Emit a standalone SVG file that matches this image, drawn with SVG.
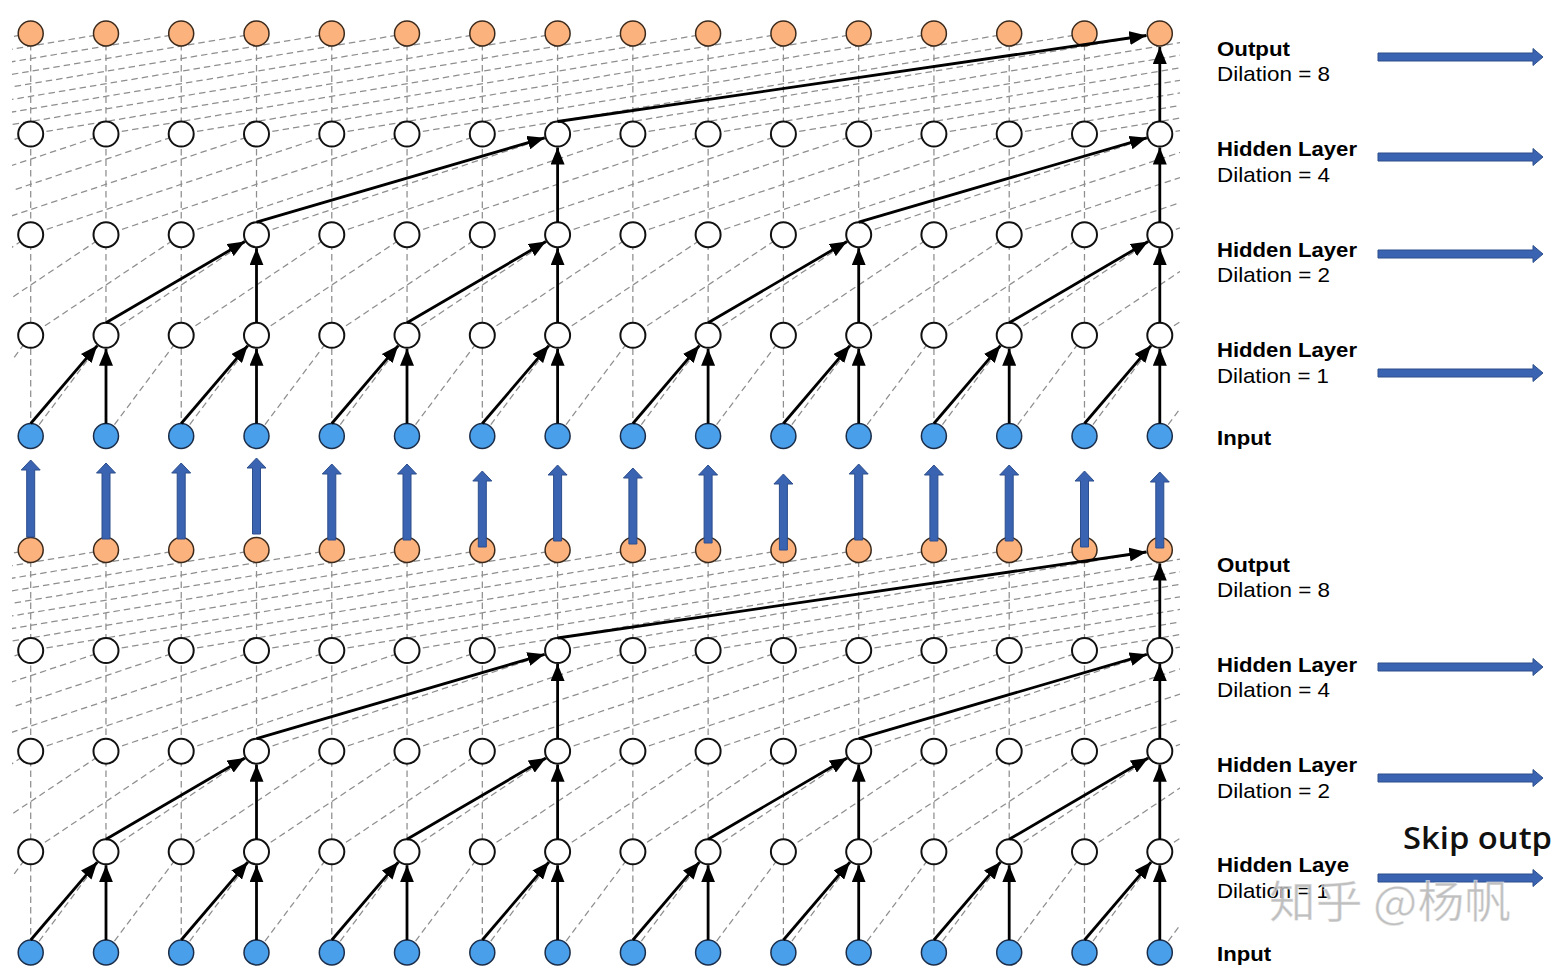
<svg xmlns="http://www.w3.org/2000/svg" width="1552" height="967" viewBox="0 0 1552 967">
<style>
.o{fill:#FCB27D;stroke:#3b2a1c;stroke-width:1.5}
.h{fill:#fff;stroke:#111;stroke-width:2}
.i{fill:#4A9FEA;stroke:#1b2d48;stroke-width:1.5}
.g{fill:none;stroke:#8e8e8e;stroke-width:1.25;stroke-dasharray:6.5 4}
.a{stroke:#000;stroke-width:2.8;marker-end:url(#ah)}
.b{fill:#3A63B2;stroke:#2C4E8C;stroke-width:1}
.lb{font-family:"Liberation Sans",Arial,sans-serif;font-size:21px;font-weight:bold;fill:#000}
.ld{font-family:"Liberation Sans",Arial,sans-serif;font-size:21px;fill:#000}
</style>
<defs>
<marker id="ah" markerUnits="userSpaceOnUse" markerWidth="18" markerHeight="14" refX="17" refY="7" orient="auto"><path d="M0,0 L17,7 L0,14 z" fill="#000"/></marker>
<clipPath id="clip" clipPathUnits="userSpaceOnUse"><rect x="12" y="-600" width="1168" height="2200"/></clipPath>
<g id="grid">
<path class="g" d="M1761.9,33.5l-602.16,100.5m526.89,-100.5l-602.16,100.5m526.89,-100.5l-602.16,100.5m526.89,-100.5l-602.16,100.5m526.89,-100.5l-602.16,100.5m526.89,-100.5l-602.16,100.5m526.89,-100.5l-602.16,100.5m526.89,-100.5l-602.16,100.5m526.89,-100.5l-602.16,100.5m526.89,-100.5l-602.16,100.5m526.89,-100.5l-602.16,100.5m526.89,-100.5l-602.16,100.5m526.89,-100.5l-602.16,100.5m526.89,-100.5l-602.16,100.5m526.89,-100.5l-602.16,100.5m526.89,-100.5l-602.16,100.5m526.89,-100.5l-602.16,100.5m526.89,-100.5l-602.16,100.5m526.89,-100.5l-602.16,100.5m526.89,-100.5l-602.16,100.5m526.89,-100.5l-602.16,100.5m526.89,-100.5l-602.16,100.5m526.89,-100.5l-602.16,100.5m526.89,-100.5l-602.16,100.5"/>
<path class="g" d="M1460.8,134l-301.08,100.7m225.81,-100.7l-301.08,100.7m225.81,-100.7l-301.08,100.7m225.81,-100.7l-301.08,100.7m225.81,-100.7l-301.08,100.7m225.81,-100.7l-301.08,100.7m225.81,-100.7l-301.08,100.7m225.81,-100.7l-301.08,100.7m225.81,-100.7l-301.08,100.7m225.81,-100.7l-301.08,100.7m225.81,-100.7l-301.08,100.7m225.81,-100.7l-301.08,100.7m225.81,-100.7l-301.08,100.7m225.81,-100.7l-301.08,100.7m225.81,-100.7l-301.08,100.7m225.81,-100.7l-301.08,100.7m225.81,-100.7l-301.08,100.7m225.81,-100.7l-301.08,100.7m225.81,-100.7l-301.08,100.7m225.81,-100.7l-301.08,100.7"/>
<path class="g" d="M1310.3,234.7l-150.54,100.6m75.27,-100.6l-150.54,100.6m75.27,-100.6l-150.54,100.6m75.27,-100.6l-150.54,100.6m75.27,-100.6l-150.54,100.6m75.27,-100.6l-150.54,100.6m75.27,-100.6l-150.54,100.6m75.27,-100.6l-150.54,100.6m75.27,-100.6l-150.54,100.6m75.27,-100.6l-150.54,100.6m75.27,-100.6l-150.54,100.6m75.27,-100.6l-150.54,100.6m75.27,-100.6l-150.54,100.6m75.27,-100.6l-150.54,100.6m75.27,-100.6l-150.54,100.6m75.27,-100.6l-150.54,100.6m75.27,-100.6l-150.54,100.6m75.27,-100.6l-150.54,100.6"/>
<path class="g" d="M1235,335.3l-75.27,100.7m0,-100.7l-75.27,100.7m0,-100.7l-75.27,100.7m0,-100.7l-75.27,100.7m0,-100.7l-75.27,100.7m0,-100.7l-75.27,100.7m0,-100.7l-75.27,100.7m0,-100.7l-75.27,100.7m0,-100.7l-75.27,100.7m0,-100.7l-75.27,100.7m0,-100.7l-75.27,100.7m0,-100.7l-75.27,100.7m0,-100.7l-75.27,100.7m0,-100.7l-75.27,100.7m0,-100.7l-75.27,100.7m0,-100.7l-75.27,100.7m0,-100.7l-75.27,100.7"/>
<path class="g" d="M30.7,33.5v402.5m75.27,-402.5v402.5m75.27,-402.5v402.5m75.27,-402.5v402.5m75.27,-402.5v402.5m75.27,-402.5v402.5m75.27,-402.5v402.5m75.27,-402.5v402.5m75.27,-402.5v402.5m75.27,-402.5v402.5m75.27,-402.5v402.5m75.27,-402.5v402.5m75.27,-402.5v402.5m75.27,-402.5v402.5m75.27,-402.5v402.5m75.27,-402.5v402.5"/>
</g>
<g id="arrows">
<line class="a" x1="30.7" y1="423.5" x2="97.2" y2="345.6"/>
<line class="a" x1="181.2" y1="423.5" x2="247.7" y2="345.6"/>
<line class="a" x1="331.8" y1="423.5" x2="398.2" y2="345.6"/>
<line class="a" x1="482.3" y1="423.5" x2="548.8" y2="345.6"/>
<line class="a" x1="632.9" y1="423.5" x2="699.3" y2="345.6"/>
<line class="a" x1="783.4" y1="423.5" x2="849.9" y2="345.6"/>
<line class="a" x1="933.9" y1="423.5" x2="1000.4" y2="345.6"/>
<line class="a" x1="1084.5" y1="423.5" x2="1151" y2="345.6"/>
<line class="a" x1="106" y1="423.5" x2="106" y2="348.8"/>
<line class="a" x1="256.5" y1="423.5" x2="256.5" y2="348.8"/>
<line class="a" x1="407" y1="423.5" x2="407" y2="348.8"/>
<line class="a" x1="557.6" y1="423.5" x2="557.6" y2="348.8"/>
<line class="a" x1="708.1" y1="423.5" x2="708.1" y2="348.8"/>
<line class="a" x1="858.7" y1="423.5" x2="858.7" y2="348.8"/>
<line class="a" x1="1009.2" y1="423.5" x2="1009.2" y2="348.8"/>
<line class="a" x1="1159.8" y1="423.5" x2="1159.8" y2="348.8"/>
<line class="a" x1="106" y1="322.8" x2="244.8" y2="241.5"/>
<line class="a" x1="407" y1="322.8" x2="545.9" y2="241.5"/>
<line class="a" x1="708.1" y1="322.8" x2="847" y2="241.5"/>
<line class="a" x1="1009.2" y1="322.8" x2="1148.1" y2="241.5"/>
<line class="a" x1="256.5" y1="322.8" x2="256.5" y2="248.2"/>
<line class="a" x1="557.6" y1="322.8" x2="557.6" y2="248.2"/>
<line class="a" x1="858.7" y1="322.8" x2="858.7" y2="248.2"/>
<line class="a" x1="1159.8" y1="322.8" x2="1159.8" y2="248.2"/>
<line class="a" x1="256.5" y1="222.2" x2="544.6" y2="137.8"/>
<line class="a" x1="858.7" y1="222.2" x2="1146.8" y2="137.8"/>
<line class="a" x1="557.6" y1="222.2" x2="557.6" y2="147.5"/>
<line class="a" x1="1159.8" y1="222.2" x2="1159.8" y2="147.5"/>
<line class="a" x1="557.6" y1="121.5" x2="1146.4" y2="35.5"/>
<line class="a" x1="1159.8" y1="121.5" x2="1159.8" y2="47"/>
</g>
</defs>
<rect width="1552" height="967" fill="#fff"/>
<g id="connectors">
<g clip-path="url(#clip)"><use href="#grid"/></g>
<g transform="translate(0,516.5)"><g clip-path="url(#clip)"><use href="#grid"/></g></g>
</g>
<g id="nodes">
<g id="t-out-0"><circle class="o" cx="30.7" cy="33.5" r="12.5"/></g>
<g id="t-out-1"><circle class="o" cx="106" cy="33.5" r="12.5"/></g>
<g id="t-out-2"><circle class="o" cx="181.2" cy="33.5" r="12.5"/></g>
<g id="t-out-3"><circle class="o" cx="256.5" cy="33.5" r="12.5"/></g>
<g id="t-out-4"><circle class="o" cx="331.8" cy="33.5" r="12.5"/></g>
<g id="t-out-5"><circle class="o" cx="407" cy="33.5" r="12.5"/></g>
<g id="t-out-6"><circle class="o" cx="482.3" cy="33.5" r="12.5"/></g>
<g id="t-out-7"><circle class="o" cx="557.6" cy="33.5" r="12.5"/></g>
<g id="t-out-8"><circle class="o" cx="632.9" cy="33.5" r="12.5"/></g>
<g id="t-out-9"><circle class="o" cx="708.1" cy="33.5" r="12.5"/></g>
<g id="t-out-10"><circle class="o" cx="783.4" cy="33.5" r="12.5"/></g>
<g id="t-out-11"><circle class="o" cx="858.7" cy="33.5" r="12.5"/></g>
<g id="t-out-12"><circle class="o" cx="933.9" cy="33.5" r="12.5"/></g>
<g id="t-out-13"><circle class="o" cx="1009.2" cy="33.5" r="12.5"/></g>
<g id="t-out-14"><circle class="o" cx="1084.5" cy="33.5" r="12.5"/></g>
<g id="t-out-15"><circle class="o" cx="1159.8" cy="33.5" r="12.5"/></g>
<g id="t-h4-0"><circle class="h" cx="30.7" cy="134" r="12.5"/></g>
<g id="t-h4-1"><circle class="h" cx="106" cy="134" r="12.5"/></g>
<g id="t-h4-2"><circle class="h" cx="181.2" cy="134" r="12.5"/></g>
<g id="t-h4-3"><circle class="h" cx="256.5" cy="134" r="12.5"/></g>
<g id="t-h4-4"><circle class="h" cx="331.8" cy="134" r="12.5"/></g>
<g id="t-h4-5"><circle class="h" cx="407" cy="134" r="12.5"/></g>
<g id="t-h4-6"><circle class="h" cx="482.3" cy="134" r="12.5"/></g>
<g id="t-h4-7"><circle class="h" cx="557.6" cy="134" r="12.5"/></g>
<g id="t-h4-8"><circle class="h" cx="632.9" cy="134" r="12.5"/></g>
<g id="t-h4-9"><circle class="h" cx="708.1" cy="134" r="12.5"/></g>
<g id="t-h4-10"><circle class="h" cx="783.4" cy="134" r="12.5"/></g>
<g id="t-h4-11"><circle class="h" cx="858.7" cy="134" r="12.5"/></g>
<g id="t-h4-12"><circle class="h" cx="933.9" cy="134" r="12.5"/></g>
<g id="t-h4-13"><circle class="h" cx="1009.2" cy="134" r="12.5"/></g>
<g id="t-h4-14"><circle class="h" cx="1084.5" cy="134" r="12.5"/></g>
<g id="t-h4-15"><circle class="h" cx="1159.8" cy="134" r="12.5"/></g>
<g id="t-h2-0"><circle class="h" cx="30.7" cy="234.7" r="12.5"/></g>
<g id="t-h2-1"><circle class="h" cx="106" cy="234.7" r="12.5"/></g>
<g id="t-h2-2"><circle class="h" cx="181.2" cy="234.7" r="12.5"/></g>
<g id="t-h2-3"><circle class="h" cx="256.5" cy="234.7" r="12.5"/></g>
<g id="t-h2-4"><circle class="h" cx="331.8" cy="234.7" r="12.5"/></g>
<g id="t-h2-5"><circle class="h" cx="407" cy="234.7" r="12.5"/></g>
<g id="t-h2-6"><circle class="h" cx="482.3" cy="234.7" r="12.5"/></g>
<g id="t-h2-7"><circle class="h" cx="557.6" cy="234.7" r="12.5"/></g>
<g id="t-h2-8"><circle class="h" cx="632.9" cy="234.7" r="12.5"/></g>
<g id="t-h2-9"><circle class="h" cx="708.1" cy="234.7" r="12.5"/></g>
<g id="t-h2-10"><circle class="h" cx="783.4" cy="234.7" r="12.5"/></g>
<g id="t-h2-11"><circle class="h" cx="858.7" cy="234.7" r="12.5"/></g>
<g id="t-h2-12"><circle class="h" cx="933.9" cy="234.7" r="12.5"/></g>
<g id="t-h2-13"><circle class="h" cx="1009.2" cy="234.7" r="12.5"/></g>
<g id="t-h2-14"><circle class="h" cx="1084.5" cy="234.7" r="12.5"/></g>
<g id="t-h2-15"><circle class="h" cx="1159.8" cy="234.7" r="12.5"/></g>
<g id="t-h1-0"><circle class="h" cx="30.7" cy="335.3" r="12.5"/></g>
<g id="t-h1-1"><circle class="h" cx="106" cy="335.3" r="12.5"/></g>
<g id="t-h1-2"><circle class="h" cx="181.2" cy="335.3" r="12.5"/></g>
<g id="t-h1-3"><circle class="h" cx="256.5" cy="335.3" r="12.5"/></g>
<g id="t-h1-4"><circle class="h" cx="331.8" cy="335.3" r="12.5"/></g>
<g id="t-h1-5"><circle class="h" cx="407" cy="335.3" r="12.5"/></g>
<g id="t-h1-6"><circle class="h" cx="482.3" cy="335.3" r="12.5"/></g>
<g id="t-h1-7"><circle class="h" cx="557.6" cy="335.3" r="12.5"/></g>
<g id="t-h1-8"><circle class="h" cx="632.9" cy="335.3" r="12.5"/></g>
<g id="t-h1-9"><circle class="h" cx="708.1" cy="335.3" r="12.5"/></g>
<g id="t-h1-10"><circle class="h" cx="783.4" cy="335.3" r="12.5"/></g>
<g id="t-h1-11"><circle class="h" cx="858.7" cy="335.3" r="12.5"/></g>
<g id="t-h1-12"><circle class="h" cx="933.9" cy="335.3" r="12.5"/></g>
<g id="t-h1-13"><circle class="h" cx="1009.2" cy="335.3" r="12.5"/></g>
<g id="t-h1-14"><circle class="h" cx="1084.5" cy="335.3" r="12.5"/></g>
<g id="t-h1-15"><circle class="h" cx="1159.8" cy="335.3" r="12.5"/></g>
<g id="t-in-0"><circle class="i" cx="30.7" cy="436" r="12.5"/></g>
<g id="t-in-1"><circle class="i" cx="106" cy="436" r="12.5"/></g>
<g id="t-in-2"><circle class="i" cx="181.2" cy="436" r="12.5"/></g>
<g id="t-in-3"><circle class="i" cx="256.5" cy="436" r="12.5"/></g>
<g id="t-in-4"><circle class="i" cx="331.8" cy="436" r="12.5"/></g>
<g id="t-in-5"><circle class="i" cx="407" cy="436" r="12.5"/></g>
<g id="t-in-6"><circle class="i" cx="482.3" cy="436" r="12.5"/></g>
<g id="t-in-7"><circle class="i" cx="557.6" cy="436" r="12.5"/></g>
<g id="t-in-8"><circle class="i" cx="632.9" cy="436" r="12.5"/></g>
<g id="t-in-9"><circle class="i" cx="708.1" cy="436" r="12.5"/></g>
<g id="t-in-10"><circle class="i" cx="783.4" cy="436" r="12.5"/></g>
<g id="t-in-11"><circle class="i" cx="858.7" cy="436" r="12.5"/></g>
<g id="t-in-12"><circle class="i" cx="933.9" cy="436" r="12.5"/></g>
<g id="t-in-13"><circle class="i" cx="1009.2" cy="436" r="12.5"/></g>
<g id="t-in-14"><circle class="i" cx="1084.5" cy="436" r="12.5"/></g>
<g id="t-in-15"><circle class="i" cx="1159.8" cy="436" r="12.5"/></g>
<g id="b-out-0"><circle class="o" cx="30.7" cy="550" r="12.5"/></g>
<g id="b-out-1"><circle class="o" cx="106" cy="550" r="12.5"/></g>
<g id="b-out-2"><circle class="o" cx="181.2" cy="550" r="12.5"/></g>
<g id="b-out-3"><circle class="o" cx="256.5" cy="550" r="12.5"/></g>
<g id="b-out-4"><circle class="o" cx="331.8" cy="550" r="12.5"/></g>
<g id="b-out-5"><circle class="o" cx="407" cy="550" r="12.5"/></g>
<g id="b-out-6"><circle class="o" cx="482.3" cy="550" r="12.5"/></g>
<g id="b-out-7"><circle class="o" cx="557.6" cy="550" r="12.5"/></g>
<g id="b-out-8"><circle class="o" cx="632.9" cy="550" r="12.5"/></g>
<g id="b-out-9"><circle class="o" cx="708.1" cy="550" r="12.5"/></g>
<g id="b-out-10"><circle class="o" cx="783.4" cy="550" r="12.5"/></g>
<g id="b-out-11"><circle class="o" cx="858.7" cy="550" r="12.5"/></g>
<g id="b-out-12"><circle class="o" cx="933.9" cy="550" r="12.5"/></g>
<g id="b-out-13"><circle class="o" cx="1009.2" cy="550" r="12.5"/></g>
<g id="b-out-14"><circle class="o" cx="1084.5" cy="550" r="12.5"/></g>
<g id="b-out-15"><circle class="o" cx="1159.8" cy="550" r="12.5"/></g>
<g id="b-h4-0"><circle class="h" cx="30.7" cy="650.5" r="12.5"/></g>
<g id="b-h4-1"><circle class="h" cx="106" cy="650.5" r="12.5"/></g>
<g id="b-h4-2"><circle class="h" cx="181.2" cy="650.5" r="12.5"/></g>
<g id="b-h4-3"><circle class="h" cx="256.5" cy="650.5" r="12.5"/></g>
<g id="b-h4-4"><circle class="h" cx="331.8" cy="650.5" r="12.5"/></g>
<g id="b-h4-5"><circle class="h" cx="407" cy="650.5" r="12.5"/></g>
<g id="b-h4-6"><circle class="h" cx="482.3" cy="650.5" r="12.5"/></g>
<g id="b-h4-7"><circle class="h" cx="557.6" cy="650.5" r="12.5"/></g>
<g id="b-h4-8"><circle class="h" cx="632.9" cy="650.5" r="12.5"/></g>
<g id="b-h4-9"><circle class="h" cx="708.1" cy="650.5" r="12.5"/></g>
<g id="b-h4-10"><circle class="h" cx="783.4" cy="650.5" r="12.5"/></g>
<g id="b-h4-11"><circle class="h" cx="858.7" cy="650.5" r="12.5"/></g>
<g id="b-h4-12"><circle class="h" cx="933.9" cy="650.5" r="12.5"/></g>
<g id="b-h4-13"><circle class="h" cx="1009.2" cy="650.5" r="12.5"/></g>
<g id="b-h4-14"><circle class="h" cx="1084.5" cy="650.5" r="12.5"/></g>
<g id="b-h4-15"><circle class="h" cx="1159.8" cy="650.5" r="12.5"/></g>
<g id="b-h2-0"><circle class="h" cx="30.7" cy="751.2" r="12.5"/></g>
<g id="b-h2-1"><circle class="h" cx="106" cy="751.2" r="12.5"/></g>
<g id="b-h2-2"><circle class="h" cx="181.2" cy="751.2" r="12.5"/></g>
<g id="b-h2-3"><circle class="h" cx="256.5" cy="751.2" r="12.5"/></g>
<g id="b-h2-4"><circle class="h" cx="331.8" cy="751.2" r="12.5"/></g>
<g id="b-h2-5"><circle class="h" cx="407" cy="751.2" r="12.5"/></g>
<g id="b-h2-6"><circle class="h" cx="482.3" cy="751.2" r="12.5"/></g>
<g id="b-h2-7"><circle class="h" cx="557.6" cy="751.2" r="12.5"/></g>
<g id="b-h2-8"><circle class="h" cx="632.9" cy="751.2" r="12.5"/></g>
<g id="b-h2-9"><circle class="h" cx="708.1" cy="751.2" r="12.5"/></g>
<g id="b-h2-10"><circle class="h" cx="783.4" cy="751.2" r="12.5"/></g>
<g id="b-h2-11"><circle class="h" cx="858.7" cy="751.2" r="12.5"/></g>
<g id="b-h2-12"><circle class="h" cx="933.9" cy="751.2" r="12.5"/></g>
<g id="b-h2-13"><circle class="h" cx="1009.2" cy="751.2" r="12.5"/></g>
<g id="b-h2-14"><circle class="h" cx="1084.5" cy="751.2" r="12.5"/></g>
<g id="b-h2-15"><circle class="h" cx="1159.8" cy="751.2" r="12.5"/></g>
<g id="b-h1-0"><circle class="h" cx="30.7" cy="851.8" r="12.5"/></g>
<g id="b-h1-1"><circle class="h" cx="106" cy="851.8" r="12.5"/></g>
<g id="b-h1-2"><circle class="h" cx="181.2" cy="851.8" r="12.5"/></g>
<g id="b-h1-3"><circle class="h" cx="256.5" cy="851.8" r="12.5"/></g>
<g id="b-h1-4"><circle class="h" cx="331.8" cy="851.8" r="12.5"/></g>
<g id="b-h1-5"><circle class="h" cx="407" cy="851.8" r="12.5"/></g>
<g id="b-h1-6"><circle class="h" cx="482.3" cy="851.8" r="12.5"/></g>
<g id="b-h1-7"><circle class="h" cx="557.6" cy="851.8" r="12.5"/></g>
<g id="b-h1-8"><circle class="h" cx="632.9" cy="851.8" r="12.5"/></g>
<g id="b-h1-9"><circle class="h" cx="708.1" cy="851.8" r="12.5"/></g>
<g id="b-h1-10"><circle class="h" cx="783.4" cy="851.8" r="12.5"/></g>
<g id="b-h1-11"><circle class="h" cx="858.7" cy="851.8" r="12.5"/></g>
<g id="b-h1-12"><circle class="h" cx="933.9" cy="851.8" r="12.5"/></g>
<g id="b-h1-13"><circle class="h" cx="1009.2" cy="851.8" r="12.5"/></g>
<g id="b-h1-14"><circle class="h" cx="1084.5" cy="851.8" r="12.5"/></g>
<g id="b-h1-15"><circle class="h" cx="1159.8" cy="851.8" r="12.5"/></g>
<g id="b-in-0"><circle class="i" cx="30.7" cy="952.5" r="12.5"/></g>
<g id="b-in-1"><circle class="i" cx="106" cy="952.5" r="12.5"/></g>
<g id="b-in-2"><circle class="i" cx="181.2" cy="952.5" r="12.5"/></g>
<g id="b-in-3"><circle class="i" cx="256.5" cy="952.5" r="12.5"/></g>
<g id="b-in-4"><circle class="i" cx="331.8" cy="952.5" r="12.5"/></g>
<g id="b-in-5"><circle class="i" cx="407" cy="952.5" r="12.5"/></g>
<g id="b-in-6"><circle class="i" cx="482.3" cy="952.5" r="12.5"/></g>
<g id="b-in-7"><circle class="i" cx="557.6" cy="952.5" r="12.5"/></g>
<g id="b-in-8"><circle class="i" cx="632.9" cy="952.5" r="12.5"/></g>
<g id="b-in-9"><circle class="i" cx="708.1" cy="952.5" r="12.5"/></g>
<g id="b-in-10"><circle class="i" cx="783.4" cy="952.5" r="12.5"/></g>
<g id="b-in-11"><circle class="i" cx="858.7" cy="952.5" r="12.5"/></g>
<g id="b-in-12"><circle class="i" cx="933.9" cy="952.5" r="12.5"/></g>
<g id="b-in-13"><circle class="i" cx="1009.2" cy="952.5" r="12.5"/></g>
<g id="b-in-14"><circle class="i" cx="1084.5" cy="952.5" r="12.5"/></g>
<g id="b-in-15"><circle class="i" cx="1159.8" cy="952.5" r="12.5"/></g>
</g>
<g id="flow-arrows">
<use href="#arrows"/>
<use href="#arrows" transform="translate(0,516.5)"/>
</g>
<g id="up-arrows">
<path class="b" d="M26.7,537V470H21.2L30.7,460L40.2,470H34.7V537Z"/>
<path class="b" d="M102,539V473H96.5L106,463L115.5,473H110V539Z"/>
<path class="b" d="M177.2,539V473H171.7L181.2,463L190.7,473H185.2V539Z"/>
<path class="b" d="M252.5,534V468H247L256.5,458L266,468H260.5V534Z"/>
<path class="b" d="M327.8,540V474H322.3L331.8,464L341.3,474H335.8V540Z"/>
<path class="b" d="M403,540V474H397.5L407,464L416.5,474H411V540Z"/>
<path class="b" d="M478.3,547V481H472.8L482.3,471L491.8,481H486.3V547Z"/>
<path class="b" d="M553.6,541V475H548.1L557.6,465L567.1,475H561.6V541Z"/>
<path class="b" d="M628.9,544V478H623.4L632.9,468L642.4,478H636.9V544Z"/>
<path class="b" d="M704.1,543V475H698.6L708.1,465L717.6,475H712.1V543Z"/>
<path class="b" d="M779.4,550V484H773.9L783.4,474L792.9,484H787.4V550Z"/>
<path class="b" d="M854.7,540V474H849.2L858.7,464L868.2,474H862.7V540Z"/>
<path class="b" d="M929.9,541V475H924.4L933.9,465L943.4,475H937.9V541Z"/>
<path class="b" d="M1005.2,541V475H999.7L1009.2,465L1018.7,475H1013.2V541Z"/>
<path class="b" d="M1080.5,547V481H1075L1084.5,471L1094,481H1088.5V547Z"/>
<path class="b" d="M1155.8,548V482H1150.3L1159.8,472L1169.3,482H1163.8V548Z"/>
</g>
<g id="skip-arrows">
<path class="b" d="M1378,53H1533V48.5L1543,57L1533,65.5V61H1378Z"/>
<path class="b" d="M1378,153H1533V148.5L1543,157L1533,165.5V161H1378Z"/>
<path class="b" d="M1378,250H1533V245.5L1543,254L1533,262.5V258H1378Z"/>
<path class="b" d="M1378,369H1533V364.5L1543,373L1533,381.5V377H1378Z"/>
<path class="b" d="M1378,663H1533V658.5L1543,667L1533,675.5V671H1378Z"/>
<path class="b" d="M1378,774H1533V769.5L1543,778L1533,786.5V782H1378Z"/>
<path class="b" d="M1378,874H1533V869.5L1543,878L1533,886.5V882H1378Z"/>
</g>
<g id="labels">
<text class="lb" x="1217" y="56" textLength="73" lengthAdjust="spacingAndGlyphs">Output</text>
<text class="ld" x="1217" y="81" textLength="113" lengthAdjust="spacingAndGlyphs">Dilation = 8</text>
<text class="lb" x="1217" y="156" textLength="140" lengthAdjust="spacingAndGlyphs">Hidden Layer</text>
<text class="ld" x="1217" y="182" textLength="113" lengthAdjust="spacingAndGlyphs">Dilation = 4</text>
<text class="lb" x="1217" y="257" textLength="140" lengthAdjust="spacingAndGlyphs">Hidden Layer</text>
<text class="ld" x="1217" y="282" textLength="113" lengthAdjust="spacingAndGlyphs">Dilation = 2</text>
<text class="lb" x="1217" y="357" textLength="140" lengthAdjust="spacingAndGlyphs">Hidden Layer</text>
<text class="ld" x="1217" y="383" textLength="112" lengthAdjust="spacingAndGlyphs">Dilation = 1</text>
<text class="lb" x="1217" y="445" textLength="54" lengthAdjust="spacingAndGlyphs">Input</text>
<text class="lb" x="1217" y="572" textLength="73" lengthAdjust="spacingAndGlyphs">Output</text>
<text class="ld" x="1217" y="597" textLength="113" lengthAdjust="spacingAndGlyphs">Dilation = 8</text>
<text class="lb" x="1217" y="672" textLength="140" lengthAdjust="spacingAndGlyphs">Hidden Layer</text>
<text class="ld" x="1217" y="697" textLength="113" lengthAdjust="spacingAndGlyphs">Dilation = 4</text>
<text class="lb" x="1217" y="772" textLength="140" lengthAdjust="spacingAndGlyphs">Hidden Layer</text>
<text class="ld" x="1217" y="798" textLength="113" lengthAdjust="spacingAndGlyphs">Dilation = 2</text>
<text class="lb" x="1217" y="872" textLength="132" lengthAdjust="spacingAndGlyphs">Hidden Laye</text>
<text class="ld" x="1217" y="898" textLength="112" lengthAdjust="spacingAndGlyphs">Dilation = 1</text>
<text class="lb" x="1217" y="961" textLength="54" lengthAdjust="spacingAndGlyphs">Input</text>
<text x="1403" y="849" font-family="'Open Sans','Liberation Sans',sans-serif" font-size="30" font-weight="600" fill="#111" textLength="149" lengthAdjust="spacingAndGlyphs">Skip outp</text>
<text x="1269" y="918" font-family="'Noto Sans CJK SC','Liberation Sans',sans-serif" font-size="44" fill="#b4b4b4" fill-opacity="0.85" stroke="#fff" stroke-opacity="0.5" stroke-width="1" textLength="242" lengthAdjust="spacingAndGlyphs">知乎 @杨帆</text>
</g>
</svg>
